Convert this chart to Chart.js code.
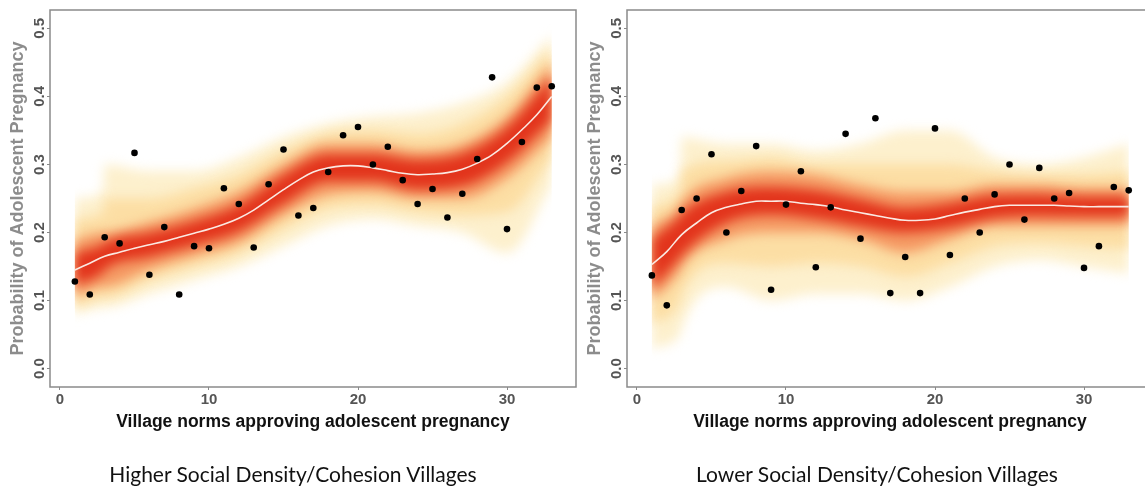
<!DOCTYPE html>
<html>
<head>
<meta charset="utf-8">
<script src="https://cdn.jsdelivr.net/npm/chart.js@4"></script>
<style>
  html, body { margin: 0; padding: 0; background: #fff; overflow: hidden; }
  #wrap { position: relative; width: 1145px; height: 488px; }
  canvas { position: absolute; top: 0; }
  .caption {
    position: absolute; top: 461px; font-family: Lato, "Liberation Sans", sans-serif;
    font-size: 21px; line-height: 25px; color: #111; white-space: nowrap; transform: translateX(-50%);
  }
</style>
</head>
<body>
<div id="wrap">
  <canvas id="left" width="580" height="488" style="left:0"></canvas>
  <canvas id="right" width="580" height="488" style="left:577px"></canvas>
  <div class="caption" style="left:293px">Higher Social Density/Cohesion Villages</div>
  <div class="caption" style="left:877px">Lower Social Density/Cohesion Villages</div>
</div>
<script>
// village norm score for every village (x), one dot each
const villages = [1, 2, 3, 4, 5, 6, 7, 8, 9, 10, 11, 12, 13, 14, 15, 16, 17, 18, 19, 20,
  21, 22, 23, 24, 25, 26, 27, 28, 29, 30, 31, 32, 33];

// observed probability per village
const highObserved = [0.128, 0.109, 0.193, 0.184, 0.317, 0.138, 0.208, 0.109, 0.180, 0.177,
  0.265, 0.242, 0.178, 0.271, 0.322, 0.225, 0.236, 0.289, 0.343, 0.355,
  0.300, 0.326, 0.277, 0.242, 0.264, 0.222, 0.257, 0.308, 0.428, 0.205,
  0.333, 0.413, 0.415];
const lowObserved = [0.137, 0.093, 0.233, 0.250, 0.315, 0.200, 0.261, 0.327, 0.116, 0.241,
  0.290, 0.149, 0.237, 0.345, 0.191, 0.368, 0.111, 0.164, 0.111, 0.353,
  0.167, 0.250, 0.200, 0.256, 0.300, 0.219, 0.295, 0.250, 0.258, 0.148,
  0.180, 0.267, 0.262];

// fitted curve (white line)
const highFit = [0.145, 0.155, 0.165, 0.171, 0.177, 0.182, 0.187, 0.193, 0.199, 0.205,
  0.212, 0.221, 0.233, 0.248, 0.263, 0.277, 0.289, 0.295, 0.298, 0.298,
  0.295, 0.291, 0.287, 0.285, 0.286, 0.288, 0.293, 0.302, 0.314, 0.331,
  0.351, 0.373, 0.400];
const lowFit = [0.153, 0.172, 0.197, 0.214, 0.229, 0.237, 0.242, 0.246, 0.246, 0.246,
  0.243, 0.241, 0.238, 0.233, 0.229, 0.225, 0.221, 0.218, 0.218, 0.220,
  0.225, 0.230, 0.234, 0.238, 0.240, 0.240, 0.240, 0.240, 0.239, 0.238,
  0.238, 0.238, 0.238];

// uncertainty bands, read at these x positions
const bandX = [1, 2.9, 3, 6, 9, 12, 15, 18, 21, 24, 27, 30, 33];
const highOuterHi = [0.25, 0.26, 0.30, 0.29, 0.29, 0.31, 0.34, 0.36, 0.37, 0.375, 0.39, 0.42, 0.49];
const highOuterLo = [0.08, 0.09, 0.09, 0.11, 0.13, 0.15, 0.18, 0.21, 0.22, 0.21, 0.20, 0.17, 0.27];
const highYellowHi = [0.22, 0.23, 0.25, 0.25, 0.265, 0.285, 0.32, 0.345, 0.35, 0.345, 0.36, 0.40, 0.47];
const highYellowLo = [0.09, 0.105, 0.105, 0.13, 0.15, 0.17, 0.205, 0.235, 0.24, 0.23, 0.225, 0.23, 0.31];
const highMidHi = [0.19, 0.20, 0.20, 0.215, 0.235, 0.26, 0.30, 0.33, 0.33, 0.32, 0.33, 0.37, 0.45];
const highMidLo = [0.105, 0.12, 0.12, 0.145, 0.165, 0.185, 0.225, 0.255, 0.26, 0.25, 0.25, 0.28, 0.34];
const highCoreHi = [0.17, 0.183, 0.185, 0.20, 0.217, 0.241, 0.285, 0.315, 0.315, 0.307, 0.316, 0.355, 0.43];
const highCoreLo = [0.122, 0.142, 0.145, 0.164, 0.181, 0.201, 0.241, 0.275, 0.275, 0.263, 0.268, 0.303, 0.365];

const lowOuterHi = [0.27, 0.28, 0.34, 0.33, 0.33, 0.32, 0.33, 0.35, 0.35, 0.31, 0.30, 0.31, 0.33];
const lowOuterLo = [0.03, 0.05, 0.06, 0.12, 0.10, 0.11, 0.11, 0.10, 0.12, 0.15, 0.16, 0.15, 0.14];
const lowYellowHi = [0.24, 0.26, 0.29, 0.305, 0.31, 0.30, 0.30, 0.30, 0.30, 0.29, 0.285, 0.285, 0.29];
const lowYellowLo = [0.065, 0.10, 0.11, 0.155, 0.15, 0.155, 0.15, 0.135, 0.155, 0.18, 0.185, 0.18, 0.175];
const lowMidHi = [0.21, 0.24, 0.245, 0.28, 0.29, 0.285, 0.27, 0.26, 0.26, 0.27, 0.27, 0.265, 0.265];
const lowMidLo = [0.10, 0.145, 0.15, 0.19, 0.20, 0.20, 0.19, 0.17, 0.19, 0.21, 0.21, 0.21, 0.21];
const lowCoreHi = [0.19, 0.225, 0.228, 0.26, 0.267, 0.262, 0.249, 0.236, 0.243, 0.255, 0.256, 0.253, 0.253];
const lowCoreLo = [0.117, 0.163, 0.166, 0.214, 0.226, 0.22, 0.209, 0.2, 0.207, 0.221, 0.224, 0.223, 0.223];

const xTicks = [0, 10, 20, 30];
const yTicks = [0.0, 0.1, 0.2, 0.3, 0.4, 0.5];

const xTitle = 'Village norms approving adolescent pregnancy';
const yTitle = 'Probability of Adolescent Pregnancy';

function pts(xs, ys) {
  return xs.map((x, i) => ({ x: x, y: ys[i] }));
}

function band(hi, lo, color) {
  return [
    { data: pts(bandX, hi), fill: '+1', backgroundColor: color, borderWidth: 0,
      pointRadius: 0, cubicInterpolationMode: 'monotone' },
    { data: pts(bandX, lo), fill: false, borderWidth: 0, pointRadius: 0,
      cubicInterpolationMode: 'monotone' }
  ];
}

// soft edges on the bands, filler draws them in beforeDraw
const blurBands = {
  id: 'blurBands',
  beforeRender(chart) { chart.ctx.filter = 'blur(6px)'; },
  beforeDraw(chart) { chart.ctx.filter = 'none'; }
};

const frame = {
  id: 'frame',
  afterDraw(chart) {
    const a = chart.chartArea;
    const ctx = chart.ctx;
    ctx.save();
    ctx.strokeStyle = '#8a8a8a';
    ctx.lineWidth = 1.5;
    ctx.strokeRect(a.left, a.top, a.right - a.left, a.bottom - a.top);
    ctx.restore();
  }
};

function makeChart(id, observed, fit, bands) {
  const datasets = [
    { data: pts(villages, observed), showLine: false, pointRadius: 3.3,
      pointBackgroundColor: '#000', pointBorderWidth: 0 },
    { data: pts(villages, fit), borderColor: '#fbe9e2', borderWidth: 1.6,
      pointRadius: 0, tension: 0.4, fill: false }
  ].concat(band(bands[6], bands[7], '#e2341c'))
   .concat(band(bands[4], bands[5], '#f59a64'))
   .concat(band(bands[2], bands[3], '#fcdea4'))
   .concat(band(bands[0], bands[1], '#fdf0cd'));

  return new Chart(document.getElementById(id), {
    type: 'line',
    data: { datasets: datasets },
    options: {
      responsive: false,
      animation: false,
      layout: { padding: { top: 10, right: 3.3, left: 0, bottom: 41 } },
      plugins: {
        legend: { display: false },
        tooltip: { enabled: false },
        filler: { drawTime: 'beforeDraw' }
      },
      scales: {
        x: {
          type: 'linear', min: -0.67, max: 34.63,
          afterBuildTicks: (s) => { s.ticks = xTicks.map(v => ({ value: v })); },
          afterFit: (s) => { s.height = 60; },
          grid: { drawOnChartArea: false, tickLength: 3, color: '#8a8a8a' },
          border: { display: false },
          ticks: { color: '#555', padding: 1, font: { family: 'Liberation Sans', size: 15, weight: 'bold' } },
          title: { display: true, text: xTitle, color: '#111', padding: { top: 0, bottom: 14 },
            font: { family: 'Liberation Sans', size: 17.5, weight: 'bold' } }
        },
        y: {
          type: 'linear', min: -0.027, max: 0.527,
          afterBuildTicks: (s) => { s.ticks = yTicks.map(v => ({ value: v })); },
          afterFit: (s) => { s.width = 50; },
          grid: { drawOnChartArea: false, tickLength: 3, color: '#8a8a8a' },
          border: { display: false },
          ticks: { color: '#555', padding: -3, minRotation: 90, maxRotation: 90, crossAlign: 'center',
            callback: (v) => v.toFixed(1),
            font: { family: 'Liberation Sans', size: 15, weight: 'bold' } },
          title: { display: true, text: yTitle, color: '#8c8c8c', padding: { top: 7, bottom: 0 },
            font: { family: 'Liberation Sans', size: 18, weight: 'bold' } }
        }
      }
    },
    plugins: [blurBands, frame]
  });
}

makeChart('left', highObserved, highFit,
  [highOuterHi, highOuterLo, highYellowHi, highYellowLo, highMidHi, highMidLo, highCoreHi, highCoreLo]);
makeChart('right', lowObserved, lowFit,
  [lowOuterHi, lowOuterLo, lowYellowHi, lowYellowLo, lowMidHi, lowMidLo, lowCoreHi, lowCoreLo]);
</script>
</body>
</html>
